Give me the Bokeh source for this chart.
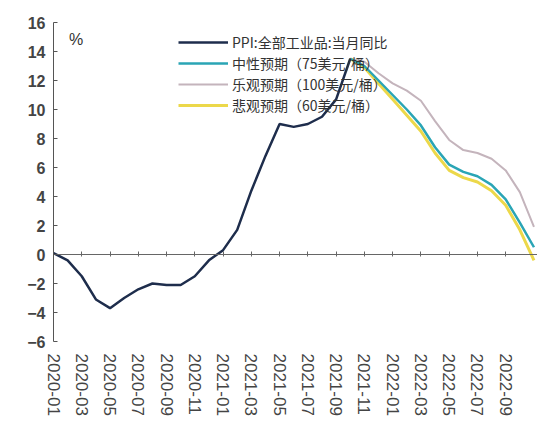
import math
from bokeh.plotting import figure
from bokeh.models import (LinearAxis, FixedTicker, Legend, LegendItem, Label, Range1d)
from bokeh.embed import file_html
from bokeh.resources import INLINE

# ---- data ----
tick_labels = ["2020-01", "2020-03", "2020-05", "2020-07", "2020-09", "2020-11",
               "2021-01", "2021-03", "2021-05", "2021-07", "2021-09", "2021-11",
               "2022-01", "2022-03", "2022-05", "2022-07", "2022-09"]
tick_pos = [0, 2, 4, 6, 8, 10, 12, 14, 16, 18, 20, 22, 24, 26, 28, 30, 32]

# actual PPI (2020-01 .. 2021-10), month index 0..21
ppi_x = list(range(0, 22))
ppi = [0.1, -0.4, -1.5, -3.1, -3.7, -3.0, -2.4, -2.0, -2.1, -2.1, -1.5, -0.4,
       0.3, 1.7, 4.4, 6.8, 9.0, 8.8, 9.0, 9.5, 10.7, 13.5]

# forecasts (2021-10 .. 2022-11), month index 21..34
fc_x = list(range(21, 35))
neutral_75 = [13.5, 13.0, 12.0, 11.0, 10.0, 8.9, 7.4, 6.2, 5.7, 5.4, 4.8, 3.8, 2.2, 0.5]
optimistic_100 = [13.5, 13.3, 12.5, 11.8, 11.3, 10.6, 9.2, 7.9, 7.2, 7.0, 6.6, 5.8, 4.3, 1.9]
pessimistic_60 = [13.5, 12.9, 11.8, 10.7, 9.6, 8.5, 7.0, 5.8, 5.3, 5.0, 4.4, 3.4, 1.7, -0.4]

series_names = ["PPI:全部工业品:当月同比", "中性预期（75美元/桶）",
                "乐观预期（100美元/桶）", "悲观预期（60美元/桶）"]

# ---- figure ----
p = figure(width=537, height=427, output_backend="svg", toolbar_location=None,
           x_range=Range1d(0, 34.25), y_range=Range1d(-6, 16),
           x_axis_location=None, y_axis_location=None,
           min_border_left=53, min_border_right=0, min_border_top=22, min_border_bottom=86)
p.outline_line_color = None
p.xgrid.visible = False
p.ygrid.visible = False
p.background_fill_color = "white"

# y axis
yax = LinearAxis(ticker=FixedTicker(ticks=list(range(-6, 17, 2))))
yax.axis_line_color = "#555555"
yax.major_tick_line_color = "#555555"
yax.major_tick_in = 4
yax.major_tick_out = 0
yax.minor_tick_line_color = None
yax.major_label_text_font = "Liberation Sans"
yax.major_label_text_font_size = "16px"
yax.major_label_text_font_style = "bold"
yax.major_label_text_color = "#444444"
yax.major_label_standoff = 8
p.add_layout(yax, "left")

# x axis labels at bottom
xax = LinearAxis(ticker=FixedTicker(ticks=tick_pos))
xax.major_label_overrides = {t: l for t, l in zip(tick_pos, tick_labels)}
xax.major_label_orientation = -math.pi / 2
xax.axis_line_color = None
xax.major_tick_line_color = None
xax.minor_tick_line_color = None
xax.major_label_text_font = "Liberation Sans"
xax.major_label_text_font_size = "17px"
xax.major_label_text_color = "#444444"
xax.major_label_standoff = 6
p.add_layout(xax, "below")

# zero line with ticks
zax = LinearAxis(ticker=FixedTicker(ticks=tick_pos), fixed_location=0)
zax.axis_line_color = "#666666"
zax.major_tick_line_color = "#666666"
zax.major_tick_in = 3
zax.major_tick_out = 2
zax.minor_tick_line_color = None
zax.major_label_text_font_size = "0px"
zax.major_label_text_alpha = 0
p.add_layout(zax, "below")

# lines
r_gray = p.line(fc_x, optimistic_100, line_color="#c4b4bc", line_width=2)
r_yel = p.line(fc_x, pessimistic_60, line_color="#ecd84a", line_width=3)
r_teal = p.line(fc_x, neutral_75, line_color="#2aa5b5", line_width=2.5)
r_ppi = p.line(ppi_x, ppi, line_color="#1e2d4c", line_width=2.5)

legend = Legend(items=[
    LegendItem(label=series_names[0], renderers=[r_ppi]),
    LegendItem(label=series_names[1], renderers=[r_teal]),
    LegendItem(label=series_names[2], renderers=[r_gray]),
    LegendItem(label=series_names[3], renderers=[r_yel]),
], location=(125, 226))
legend.background_fill_alpha = 0
legend.border_line_color = None
legend.padding = 0
legend.margin = 0
legend.spacing = 1
legend.glyph_width = 50
legend.glyph_height = 20
legend.label_height = 20
legend.label_standoff = 4
legend.label_text_font = "Noto Sans CJK SC"
legend.label_text_font_size = "14px"
legend.label_text_color = "#333333"
p.add_layout(legend, "center")

pct = Label(x=1.6, y=14.8, text="%", text_align="center", text_baseline="middle",
            text_font="Liberation Sans", text_font_size="16px", text_color="#333333")
p.add_layout(pct)

open("out.html", "w").write(file_html(p, INLINE))
